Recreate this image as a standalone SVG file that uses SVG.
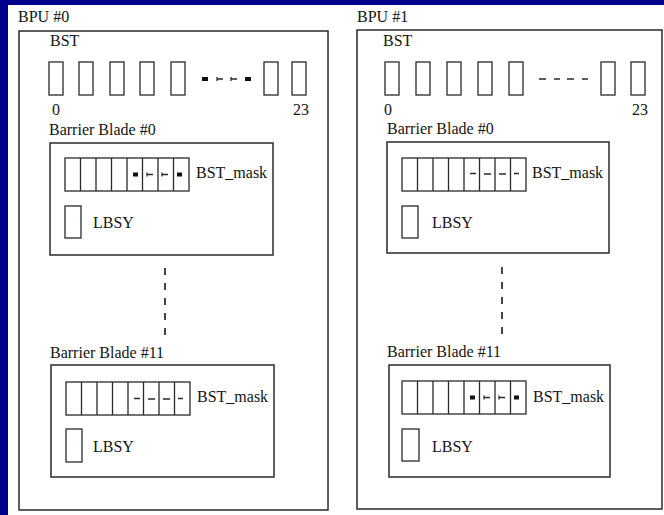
<svg xmlns="http://www.w3.org/2000/svg" xmlns:xlink="http://www.w3.org/1999/xlink" width="664" height="515" viewBox="0 0 664 515">
<style>
.bx{fill:none;stroke:#2a2a2a;stroke-width:1.5}
.cl{fill:#fff;stroke:#2a2a2a;stroke-width:1.3}
.ln{stroke:#2a2a2a;stroke-width:1.3;fill:none}
text{font-family:'Liberation Serif','DejaVu Serif',serif;font-size:16px;fill:#141414}
.dk{fill:#111}
.dash{stroke:#444;stroke-width:2;stroke-dasharray:7 8;fill:none}
</style>
<defs>
<g id="mask">
<rect class="cl" x="0" y="0" width="124" height="33"/>
<path class="ln" d="M15.5 0v33M31 0v33M46.5 0v33M62 0v33M77.5 0v33M93 0v33M108.5 0v33"/>
</g>
<g id="marksA">
<rect class="dk" x="68" y="14.5" width="5" height="4"/>
<path class="ln" stroke-width="1" d="M82 16.5h6M82 14.5v4M97 16.5h6M97 14.5v4"/>
<rect class="dk" x="112" y="14.5" width="5" height="4"/>
</g>
<g id="marksB">
<path class="ln" stroke-width="2.5" d="M68 16.5h6M112 16.5h5"/>
<path class="ln" stroke-width="1.2" d="M82 17h7M97 17h7"/>
</g>
<rect id="cell" class="cl" x="0" y="0" width="14" height="33"/>
</defs>
<rect x="0" y="0" width="664" height="515" fill="#00008b"/>
<rect x="8" y="5" width="656" height="510" fill="#fff"/>

<g id="bpu0" font-family="Liberation Serif, serif">
<text x="18" y="22">BPU #0</text>
<rect class="bx" x="19" y="31" width="309" height="479"/>
<g id="bpu0-bst">
<text x="50" y="46">BST</text>
<use xlink:href="#cell" x="49" y="62"/>
<use xlink:href="#cell" x="79" y="62"/>
<use xlink:href="#cell" x="110" y="62"/>
<use xlink:href="#cell" x="140" y="62"/>
<use xlink:href="#cell" x="171" y="62"/>
<rect class="dk" x="202" y="77" width="6" height="4"/>
<path class="ln" stroke-width="1" d="M217 79h6M217 77v4M231 79h6M231 77v4"/>
<rect class="dk" x="245" y="77" width="6" height="4"/>
<use xlink:href="#cell" x="264" y="62"/>
<use xlink:href="#cell" x="292" y="62"/>
<text x="52" y="115">0</text>
<text x="293" y="115">23</text>
</g>
<g id="bpu0-blade0">
<text x="49" y="135">Barrier Blade #0</text>
<rect class="bx" x="50" y="143" width="223" height="112"/>
<use xlink:href="#mask" x="65" y="158"/>
<use xlink:href="#marksA" x="65" y="158"/>
<text x="196" y="178">BST_mask</text>
<rect class="cl" x="65" y="206" width="16" height="32"/>
<text x="93" y="228">LBSY</text>
</g>
<g id="bpu0-blade11">
<text x="50" y="358">Barrier Blade #11</text>
<rect class="bx" x="51" y="365" width="223" height="112"/>
<use xlink:href="#mask" x="66" y="382"/>
<use xlink:href="#marksB" x="66" y="382"/>
<text x="197" y="402">BST_mask</text>
<rect class="cl" x="66" y="429" width="16" height="33"/>
<text x="93" y="452">LBSY</text>
</g>
</g>

<g id="bpu1" font-family="Liberation Serif, serif">
<text x="357" y="22">BPU #1</text>
<rect class="bx" x="357" y="30" width="305" height="479"/>
<g id="bpu1-bst">
<text x="383" y="46">BST</text>
<use xlink:href="#cell" x="385" y="62"/>
<use xlink:href="#cell" x="416" y="62"/>
<use xlink:href="#cell" x="447" y="62"/>
<use xlink:href="#cell" x="478" y="62"/>
<use xlink:href="#cell" x="509" y="62"/>
<path class="ln" stroke-width="2.5" d="M539 79h7M554 79h6M567 79h7M582 79h6"/>
<use xlink:href="#cell" x="601" y="62"/>
<use xlink:href="#cell" x="631" y="62"/>
<text x="384" y="115">0</text>
<text x="632" y="115">23</text>
</g>
<g id="bpu1-blade0">
<text x="387" y="134">Barrier Blade #0</text>
<rect class="bx" x="387" y="142" width="222" height="111"/>
<use xlink:href="#mask" x="402" y="158"/>
<use xlink:href="#marksB" x="402" y="157"/>
<text x="532" y="178">BST_mask</text>
<rect class="cl" x="402" y="206" width="16" height="32"/>
<text x="432" y="228">LBSY</text>
</g>
<g id="bpu1-blade11">
<text x="387" y="357">Barrier Blade #11</text>
<rect class="bx" x="389" y="365" width="221" height="112"/>
<use xlink:href="#mask" x="402" y="381"/>
<use xlink:href="#marksA" x="402" y="381"/>
<text x="533" y="402">BST_mask</text>
<rect class="cl" x="402" y="429" width="17" height="32"/>
<text x="432" y="452">LBSY</text>
</g>
</g>

<g id="connectors">
<line class="dash" x1="165" y1="268" x2="165" y2="338"/>
<line class="dash" x1="502" y1="267" x2="502" y2="337"/>
</g>
</svg>
